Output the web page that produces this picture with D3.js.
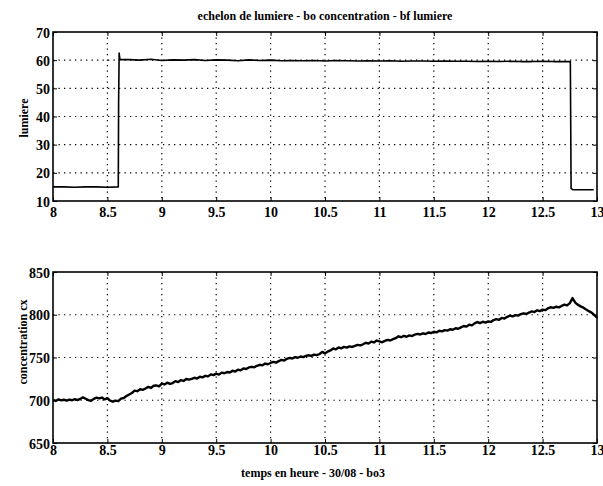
<!DOCTYPE html>
<html>
<head>
<meta charset="utf-8">
<script src="https://cdn.jsdelivr.net/npm/d3@7"></script>
<style>
  html, body { margin: 0; padding: 0; background: #fff; }
  svg { display: block; }
  text { font-family: "Liberation Serif", "DejaVu Serif", serif; fill: #000; }
</style>
</head>
<body>
<svg id="chart" width="603" height="486"></svg>
<script>
// ---------- data ----------
const chartTitle = "echelon de lumiere - bo concentration - bf lumiere";
const xLabel = "temps en heure - 30/08 - bo3";
const topYLabel = "lumiere";
const bottomYLabel = "concentration cx";

const xTicks = [8, 8.5, 9, 9.5, 10, 10.5, 11, 11.5, 12, 12.5, 13];
const lightTicks = [10, 20, 30, 40, 50, 60, 70];
const concTicks = [650, 700, 750, 800, 850];

// light (lumiere) step signal
const lightTime = [8.00, 8.10, 8.20, 8.30, 8.40, 8.50, 8.600, 8.603, 8.608, 8.615,
  8.70, 8.80, 8.90, 9.00, 9.10, 9.20, 9.30, 9.40, 9.50, 9.60, 9.70, 9.80, 9.90,
  10.00, 10.10, 10.20, 10.30, 10.40, 10.50, 10.60, 10.70, 10.80, 10.90,
  11.00, 11.10, 11.20, 11.30, 11.40, 11.50, 11.60, 11.70, 11.80, 11.90,
  12.00, 12.10, 12.20, 12.30, 12.40, 12.50, 12.60, 12.70, 12.755, 12.762, 12.78, 12.90, 12.97];
const lightValue = [15.0, 15.0, 14.9, 15.0, 15.0, 14.9, 15.0, 45.0, 62.5, 60.2,
  60.2, 60.0, 60.3, 59.9, 60.1, 60.0, 60.2, 59.9, 60.1, 60.0, 59.8, 60.1, 59.9,
  60.0, 59.8, 59.9, 59.8, 59.9, 59.7, 59.9, 59.8, 59.7, 59.8,
  59.7, 59.8, 59.6, 59.7, 59.7, 59.6, 59.7, 59.6, 59.6, 59.5,
  59.6, 59.5, 59.6, 59.5, 59.5, 59.6, 59.5, 59.5, 59.5, 14.4, 14.0, 14.0, 14.0];

// concentration cx, sampled every 0.025 h from 8.00 to 13.00
const concStart = 8.0;
const concStep = 0.025;
const concValue = [
  700.5, 699.2, 701.0, 699.8, 700.6, 699.5, 700.8, 700.0, 701.2, 700.1,
  701.5, 703.4, 701.8, 700.2, 699.4, 701.6, 703.0, 702.1, 703.2, 701.0,
  702.4, 699.6, 698.3, 699.5, 698.9, 701.8, 702.6, 704.9, 706.8, 708.5,
  711.2, 710.6, 712.9, 712.2, 713.8, 715.6, 714.4, 716.9, 717.3, 716.2,
  719.4, 718.5, 720.6, 719.2, 720.1, 722.4, 721.3, 723.5, 722.6, 724.8,
  724.1, 725.0, 726.3, 725.4, 727.5, 726.8, 728.6, 727.9, 730.2, 729.4,
  731.1, 730.0, 732.3, 731.6, 733.0, 732.4, 734.5, 733.6, 735.8, 735.0,
  737.2, 736.5, 738.4, 739.1, 738.6, 740.3, 741.5, 740.8, 742.9, 742.1,
  743.6, 744.9, 744.0, 745.8, 747.2, 746.4, 748.5, 749.6, 748.8, 750.4,
  749.7, 751.2, 750.5, 751.8, 752.6, 751.9, 753.4, 752.7, 754.1, 756.6,
  754.8, 756.9, 758.3, 760.5, 759.6, 761.8, 760.7, 762.4, 761.5, 763.0,
  762.3, 763.6, 764.8, 764.1, 765.5, 767.2, 766.4, 768.5, 767.6, 769.8,
  768.9, 767.8, 769.5, 770.6, 769.9, 771.4, 772.6, 774.8, 773.7, 775.2,
  774.3, 775.9, 775.1, 776.8, 777.6, 776.9, 778.3, 777.5, 779.2, 778.6,
  780.1, 779.4, 781.3, 780.6, 782.0, 781.4, 783.1, 782.5, 784.2, 783.6,
  785.3, 786.8, 786.1, 788.4, 787.6, 789.9, 791.5, 790.2, 791.8, 790.9,
  792.3, 791.6, 793.8, 794.9, 794.1, 796.3, 795.5, 797.6, 798.9, 798.1,
  799.6, 799.0, 800.8, 801.7, 800.9, 802.6, 803.9, 803.1, 805.2, 804.3,
  806.0, 805.4, 807.5, 808.8, 808.0, 809.4, 808.6, 810.3, 811.8, 810.9,
  813.6, 819.5, 814.2, 811.5, 809.8, 808.3, 806.1, 804.2, 802.5, 799.8,
  796.5
];

// ---------- drawing ----------
const svg = d3.select("#chart");
svg.append("rect").attr("width", 603).attr("height", 486).attr("fill", "#fff");

const left = 53, right = 597;
const x = d3.scaleLinear().domain([8, 13]).range([left, right]);

function panel(top, bottom, yDomain, yTicks, series, yLabel, yLabelPos, xTickBaseline, lineWidth) {
  const y = d3.scaleLinear().domain(yDomain).range([bottom, top]);
  const g = svg.append("g");

  // dotted grid
  g.append("g").selectAll("line.vg").data(xTicks.slice(1, -1)).join("line")
    .attr("x1", d => x(d)).attr("x2", d => x(d))
    .attr("y1", top).attr("y2", bottom)
    .attr("stroke", "#000").attr("stroke-width", 1.2).attr("stroke-dasharray", "1.3,4.2");
  g.append("g").selectAll("line.hg").data(yTicks.slice(1, -1)).join("line")
    .attr("x1", left).attr("x2", right)
    .attr("y1", d => y(d)).attr("y2", d => y(d))
    .attr("stroke", "#000").attr("stroke-width", 1.2).attr("stroke-dasharray", "1.3,4.2");

  // data line
  const line = d3.line().x(d => x(d[0])).y(d => y(d[1]));
  g.append("path").datum(series).attr("d", line)
    .attr("fill", "none").attr("stroke", "#000").attr("stroke-width", lineWidth)
    .attr("stroke-linejoin", "round");

  // axes with inner ticks
  const xb = g.append("g").attr("transform", `translate(0,${bottom})`)
    .call(d3.axisBottom(x).tickValues(xTicks).tickSize(-4).tickPadding(0).tickFormat(d3.format("")));
  xb.selectAll("text").attr("dy", null).attr("y", xTickBaseline - bottom)
    .style("font-size", "14px").style("font-weight", "bold");
  const xt = g.append("g").attr("transform", `translate(0,${top})`)
    .call(d3.axisTop(x).tickValues(xTicks).tickSize(-4).tickFormat(""));
  const yl = g.append("g").attr("transform", `translate(${left},0)`)
    .call(d3.axisLeft(y).tickValues(yTicks).tickSize(-4).tickPadding(3).tickFormat(d3.format("")));
  yl.selectAll("text").style("font-size", "14px").style("font-weight", "bold").attr("dy", "0.36em");
  const yr = g.append("g").attr("transform", `translate(${right},0)`)
    .call(d3.axisRight(y).tickValues(yTicks).tickSize(-4).tickFormat(""));
  [xb, xt, yl, yr].forEach(a => {
    a.select(".domain").remove();
    a.selectAll(".tick line").attr("stroke", "#000").attr("stroke-width", 1);
  });

  // frame
  g.append("rect").attr("x", left).attr("y", top)
    .attr("width", right - left).attr("height", bottom - top)
    .attr("fill", "none").attr("stroke", "#000").attr("stroke-width", 1.6);

  g.append("text")
    .attr("transform", `translate(${yLabelPos[0]},${yLabelPos[1]}) rotate(-90)`)
    .attr("text-anchor", "middle")
    .style("font-size", "12px").style("font-weight", "bold")
    .text(yLabel);
}

const lightSeries = lightTime.map((t, i) => [t, lightValue[i]]);
const concSeries = concValue.map((v, i) => [concStart + i * concStep, v]);

panel(32, 201, [10, 70], lightTicks, lightSeries, topYLabel, [28, 118], 217, 1.6);
panel(272, 443, [650, 850], concTicks, concSeries, bottomYLabel, [27, 342], 455, 2.4);

svg.append("text").attr("x", 325).attr("y", 20).attr("text-anchor", "middle")
  .style("font-size", "12px").style("font-weight", "bold").text(chartTitle);
svg.append("text").attr("x", 313).attr("y", 477).attr("text-anchor", "middle")
  .style("font-size", "12px").style("font-weight", "bold").text(xLabel);
</script>
</body>
</html>
